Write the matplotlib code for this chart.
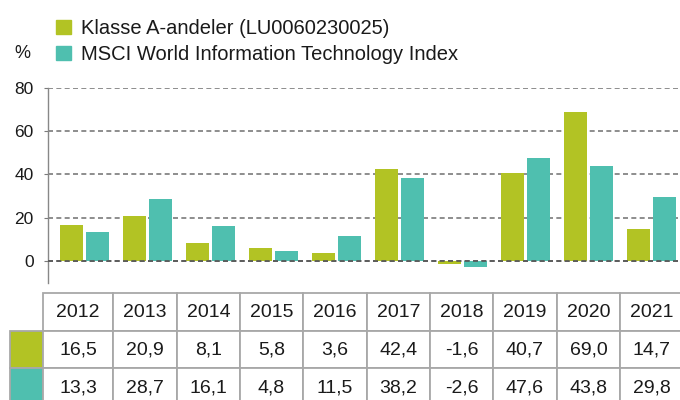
import matplotlib
matplotlib.use("Agg")
import matplotlib.pyplot as plt
from matplotlib.patches import Patch, Rectangle
import numpy as np

# data
years = ["2012", "2013", "2014", "2015", "2016", "2017", "2018", "2019", "2020", "2021"]
klasse_a = [16.5, 20.9, 8.1, 5.8, 3.6, 42.4, -1.6, 40.7, 69.0, 14.7]
msci_it = [13.3, 28.7, 16.1, 4.8, 11.5, 38.2, -2.6, 47.6, 43.8, 29.8]
series_names = ["Klasse A-andeler (LU0060230025)", "MSCI World Information Technology Index"]

green = "#b2c324"
teal = "#4fbfaf"
grid_col = "#7a7a7a"
txt_col = "#1a1a1a"

plt.rcParams["font.family"] = ["Liberation Sans", "DejaVu Sans"]

W, H = 680, 400
fig = plt.figure(figsize=(6.8, 4.0), dpi=100)

# ------------------------------
# bar chart
# ------------------------------
ax = fig.add_axes([47.5 / W, 1 - 282.6 / H, 1 - 47.5 / W, (282.6 - 88) / H])
x = np.arange(len(years))
bw = 0.365
off = 0.206
ax.bar(x - off, klasse_a, bw, color=green, zorder=2)
ax.bar(x + off, msci_it, bw, color=teal, zorder=2)
ax.axhline(0, color="#555555", lw=1.2, ls=(0, (3, 2)), zorder=3)

ax.set_ylim(-10, 80)
ax.set_xlim(-0.58, 9.45)
ax.set_yticks([0, 20, 40, 60, 80])
ax.set_xticks([])
ax.yaxis.grid(True, color=grid_col, lw=1.2, ls=(0, (3, 2)), zorder=0)
ax.tick_params(axis="y", length=3, color=grid_col, pad=7, labelsize=12.5, labelcolor=txt_col)
for s in ["top", "right", "bottom"]:
    ax.spines[s].set_visible(False)
ax.spines["left"].set_color("#888888")
ax.spines["left"].set_linewidth(1.0)
ax.spines["left"].set_bounds(-10, 80)

# legend + unit
handles = [Patch(color=green), Patch(color=teal)]
fig.legend(handles, series_names, loc="upper left",
           bbox_to_anchor=(56 / W, 1 - 19 / H), frameon=False, fontsize=14.5,
           handlelength=0.75, handleheight=0.75, handletextpad=0.5,
           labelspacing=0.35, borderpad=0, borderaxespad=0,
           labelcolor=txt_col)
fig.text(14 / W, 1 - 54 / H, "%", fontsize=13, va="center", ha="left", color=txt_col)

# ------------------------------
# table under the chart (pixel layout)
# ------------------------------
tax = fig.add_axes([0, 0, 1, 1], facecolor="none")
tax.set_xlim(0, W)
tax.set_ylim(H, 0)
tax.axis("off")

col_edges = [43, 113, 177, 240, 303, 367, 430, 493, 557, 620, 684]
row_edges = [293, 330.5, 368, 406]
swatch_x = (10, 43)
edge = "#a8a8a8"
fmt = lambda v: f"{v:.1f}".replace(".", ",")
rows = [years, [fmt(v) for v in klasse_a], [fmt(v) for v in msci_it]]
row_colors = [None, green, teal]

for r, labels in enumerate(rows):
    y0, y1 = row_edges[r], row_edges[r + 1]
    if row_colors[r] is not None:
        tax.add_patch(Rectangle((swatch_x[0], y0), swatch_x[1] - swatch_x[0], y1 - y0,
                                facecolor=row_colors[r], edgecolor=edge, lw=1.3))
    for c, lab in enumerate(labels):
        x0, x1 = col_edges[c], col_edges[c + 1]
        tax.add_patch(Rectangle((x0, y0), x1 - x0, y1 - y0,
                                facecolor="white", edgecolor=edge, lw=1.3))
        tax.text((x0 + x1) / 2, (y0 + y1) / 2 + 1, lab, ha="center", va="center",
                 fontsize=14, color=txt_col)

fig.savefig("out.png", dpi=100)
